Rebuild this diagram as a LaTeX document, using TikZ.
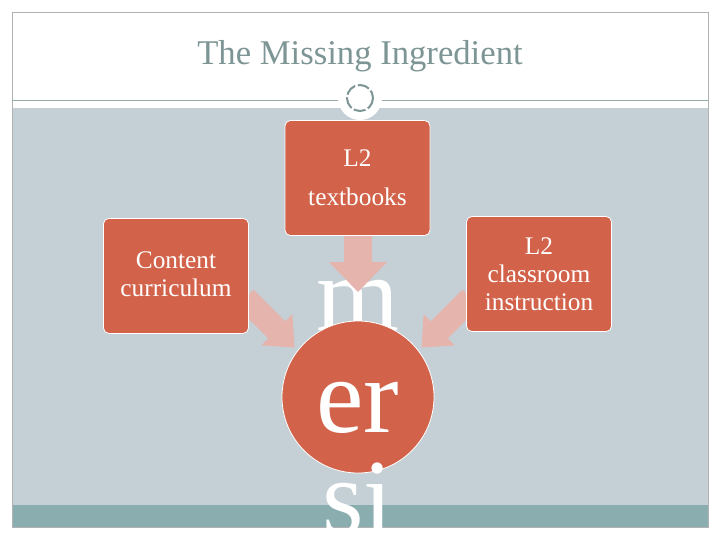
\documentclass[tikz,border=0pt]{standalone}
\usepackage{fontspec}
\setmainfont{Liberation Serif}
\begin{document}
\begin{tikzpicture}[x=0.75pt,y=-0.75pt,
  box/.style={draw=white,line width=0.6pt,fill=boxc,rounded corners=4pt,text=white,align=center,font=\fontsize{19}{21}\selectfont,inner sep=2pt,minimum width=108.75pt,minimum height=86.25pt},
  big/.style={text=white,font=\fontsize{80}{90}\selectfont,anchor=base},
  arr/.style={fill=arrc,draw=none}]
\definecolor{boxc}{HTML}{D2634A}
\definecolor{arrc}{HTML}{E5B4AC}
\definecolor{bandc}{HTML}{C5D0D6}
\definecolor{tealc}{HTML}{8AADB0}
\definecolor{titlec}{HTML}{7D9595}
\useasboundingbox (0,0) rectangle (720,540);
\fill[white] (0,0) rectangle (720,540);
\fill[bandc] (12,108) rectangle (708,505);
\fill[tealc] (12,505) rectangle (708,527);
\draw[gray!60,line width=0.6pt] (12,12) rectangle (708,527);
\draw[titlec!80,line width=0.6pt] (12,100) -- (708,100);
\node[text=titlec,font=\fontsize{26}{30}\selectfont] (title) at (360,56) {The Missing Ingredient};
\fill[white] (360,98) circle (22);
\draw[titlec,line width=1.5pt,dash pattern=on 9pt off 2pt] (360,98) circle (13);
\begin{scope}
\clip (0,0) rectangle (720,527);
\node[big] (im) at (358,330) {m};
\end{scope}
% arrows
\fill[arr] (344,236) -- (372,236) -- (372,262) -- (387,262) -- (358,292) -- (329,262) -- (344,262) -- cycle;
\fill[arr] (253.5,289.5) -- (285.3,321.3) -- (292.4,314.2) -- (294.5,347.5) -- (261.2,345.4) -- (268.3,338.3) -- (236.5,306.5) -- cycle;
\fill[arr] (462.5,289.5) -- (430.7,321.3) -- (423.6,314.2) -- (421.5,347.5) -- (454.8,345.4) -- (447.7,338.3) -- (479.5,306.5) -- cycle;
\node[box] (top) at (357.5,178) {L2\\[8pt]textbooks};
\node[box,anchor=north,align=center] (left) at (176,218) {};
\node[text=white,font=\fontsize{19}{21}\selectfont,align=center] (lefttext) at (176,274) {Content\\curriculum};
\node[box] (right) at (539,274) {L2\\classroom\\instruction};
\node[circle,fill=boxc,draw=white,line width=0.6pt,minimum size=114pt,inner sep=0pt] (c) at (358,397) {};
\begin{scope}
\clip (0,0) rectangle (720,527);
\node[big] (er) at (358,432) {er};
\node[big] (si) at (358,533) {si};
\end{scope}
\end{tikzpicture}
\end{document}
